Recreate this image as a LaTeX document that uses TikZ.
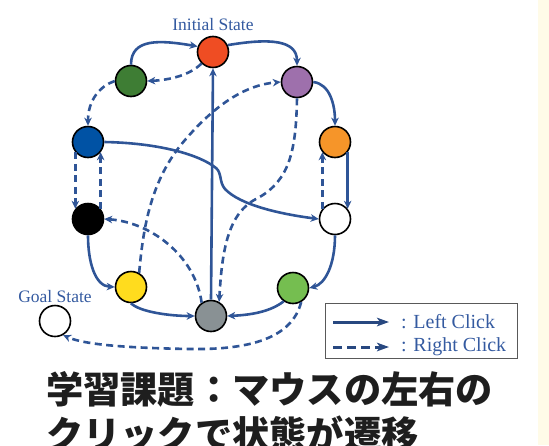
\documentclass[tikz,border=0pt]{standalone}
\usepackage{fontspec}
\setmainfont{Liberation Serif}
\newfontfamily\cjk{Noto Sans CJK JP}
\usetikzlibrary{arrows.meta}
\definecolor{lnblue}{RGB}{47,85,151}
\definecolor{txblue}{RGB}{52,90,160}
\definecolor{cream}{RGB}{255,251,232}
\definecolor{nred}{RGB}{239,77,35}
\definecolor{ndgreen}{RGB}{62,125,52}
\definecolor{npurple}{RGB}{158,112,172}
\definecolor{nblue}{RGB}{0,82,164}
\definecolor{norange}{RGB}{246,149,41}
\definecolor{nyellow}{RGB}{255,220,30}
\definecolor{ngray}{RGB}{137,145,148}
\definecolor{nlgreen}{RGB}{117,190,80}
\definecolor{titlec}{RGB}{30,30,30}
\tikzset{
  state/.style={circle, draw=black, line width=1.6pt, minimum size=31pt, inner sep=0pt},
  lc/.style={draw=lnblue, line width=2.6pt, -{Stealth[length=8pt,width=7.5pt,inset=2.5pt]}},
  rc/.style={lc, dash pattern=on 7pt off 4.5pt},
  lbl/.style={text=txblue, font=\fontsize{17.5}{20}\selectfont, inner sep=0pt},
  leglbl/.style={text=txblue, font=\fontsize{20}{22}\selectfont, inner sep=0pt, anchor=west},
  legarrow/.style={draw=lnblue!85!black, line width=3pt, -{Stealth[length=12pt,width=8.5pt,inset=3pt]}},
  ttl/.style={text=titlec, font=\cjk\bfseries\fontsize{37.25}{40}\selectfont, inner sep=0pt, anchor=base west}
}
\begin{document}
\begin{tikzpicture}[x=1pt,y=-1pt]
\useasboundingbox (0,0) rectangle (549,445);
\clip (0,0) rectangle (549,445);
\fill[cream] (538,0) rectangle (549,445);

% states
\node[state, fill=nred] (R) at (213,52) {};
\node[state, fill=ndgreen] (G) at (131,81) {};
\node[state, fill=npurple] (P) at (297,82) {};
\node[state, fill=nblue] (B) at (88,142) {};
\node[state, fill=norange] (O) at (335,142) {};
\node[state, fill=black] (K) at (88,219) {};
\node[state, fill=white] (W) at (335,219) {};
\node[state, fill=nyellow] (Y) at (131,287) {};
\node[state, fill=ngray] (Gy) at (211,316) {};
\node[state, fill=nlgreen] (LG) at (293,288) {};
\node[state, fill=white] (Goal) at (55,321) {};

\node[lbl] (initlbl) at (213,25) {Initial State};
\node[lbl] (goallbl) at (55,297) {Goal State};

% left clicks
\draw[lc] (G.north) .. controls (131,38) and (160,40) .. (R.160);
\draw[lc] (R.25) .. controls (270,38) and (297,40) .. (P.north);
\draw[lc] (Gy.north) -- (R.south);
\draw[lc] (P.east) .. controls (330,84) and (335,105) .. (O.north);
\draw[lc] (O.-39) -- (W.39);
\draw[lc] (B.east) .. controls (160,143) and (200,155) .. (216,168)
   .. controls (222,173) and (219,182) .. (225,189)
   .. controls (240,205) and (280,214) .. (W.west);
\draw[lc] (K.south) .. controls (88,262) and (95,286) .. (Y.west);
\draw[lc] (Y.south) .. controls (140,312) and (170,316) .. (Gy.west);
\draw[lc] (W.south) .. controls (335,265) and (325,284) .. (LG.east);
\draw[lc] (LG.-125) .. controls (270,312) and (250,315) .. (Gy.east);

% right clicks
\draw[rc] (R.225) .. controls (190,75) and (170,80) .. (G.east);
\draw[rc] (G.west) .. controls (100,86) and (88,100) .. (B.north);
\draw[rc] (B.-141) -- (K.141);
\draw[rc] (K.39) -- (B.-39);
\draw[rc] (W.141) -- (O.-141);
\draw[rc] (P.south) .. controls (296,150) and (290,180) .. (258,198)
   .. controls (228,212) and (222,250) .. (Gy.60);
\draw[rc] (Y.60) .. controls (143,230) and (150,180) .. (185,140)
   .. controls (215,105) and (245,85) .. (P.west);
\draw[rc] (Gy.125) .. controls (195,255) and (150,222) .. (K.east);
\draw[rc] (LG.-60) .. controls (292,338) and (250,350) .. (190,349)
   .. controls (130,348) and (85,345) .. (Goal.-60);

% legend
\node[draw=black!65, line width=1pt, minimum width=192pt, minimum height=55pt, inner sep=0pt] (legend) at (421,330.5) {};
\coordinate (l1s) at (333,322);
\coordinate (l1e) at (389,322);
\coordinate (l2s) at (333,347);
\coordinate (l2e) at (389,347);
\draw[legarrow] (l1s) -- (l1e);
\draw[legarrow, dash pattern=on 9pt off 5pt] (l2s) -- (l2e);
\node[leglbl] (leftlbl) at (401,322) {: Left Click};
\node[leglbl] (rightlbl) at (401,347) {: Right Click};

% title
\node[ttl] (title1) at (46,403) {学習課題：マウスの左右の};
\node[ttl] (title2) at (46,448) {クリックで状態が遷移};
\end{tikzpicture}
\end{document}
